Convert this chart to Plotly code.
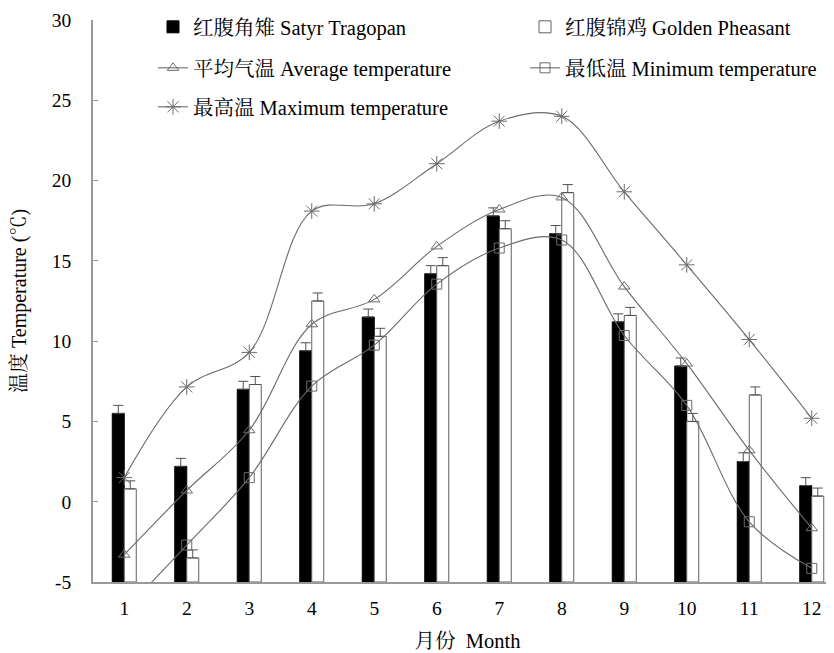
import plotly.graph_objects as go

# ---------------- data ----------------
months = [1, 2, 3, 4, 5, 6, 7, 8, 9, 10, 11, 12]
month_labels = ["1", "2", "3", "4", "5", "6", "7", "8", "9", "10", "11", "12"]

satyr = [5.5, 2.2, 7.0, 9.4, 11.5, 14.2, 17.8, 16.7, 11.2, 8.45, 2.5, 1.0]
satyr_err = [0.5, 0.5, 0.5, 0.5, 0.5, 0.5, 0.5, 0.5, 0.5, 0.5, 0.55, 0.5]

golden = [0.8, -3.5, 7.3, 12.5, 10.3, 14.7, 17.0, 19.25, 11.6, 5.0, 6.65, 0.35]
golden_err = [0.5, 0.5, 0.5, 0.5, 0.5, 0.5, 0.5, 0.5, 0.5, 0.5, 0.5, 0.5]

avg_temp = [-3.3, 0.7, 4.45, 11.05, 12.6, 15.9, 18.2, 18.95, 13.4, 8.6, 3.2, -1.65]
min_temp = [-6.8, -2.7, 1.5, 7.2, 9.75, 13.55, 15.8, 16.3, 10.35, 6.0, -1.25, -4.15]
max_temp = [1.5, 7.15, 9.3, 18.1, 18.55, 21.05, 23.7, 24.0, 19.3, 14.75, 10.1, 5.2]

y_ticks = [-5, 0, 5, 10, 15, 20, 25, 30]
y_tick_text = ["-5", "0", "5", "10", "15", "20", "25", "30"]

names = ["红腹角雉 Satyr Tragopan", "红腹锦鸡 Golden Pheasant",
         "平均气温 Average temperature", "最低温 Minimum temperature",
         "最高温 Maximum temperature"]

Y_MIN, Y_MAX = -5, 30

FONT = "Liberation Serif, Times New Roman, Noto Serif CJK SC, Noto Sans CJK SC, serif"
LINE_C = "#6a6a6a"

fig = go.Figure()

fig.add_trace(go.Bar(
    x=months, y=[v - Y_MIN for v in satyr], base=Y_MIN, name=names[0],
    marker=dict(color="black", line=dict(color="black", width=1)),
    error_y=dict(type="data", array=satyr_err, arrayminus=[0] * 12, symmetric=False,
                 color="#505050", thickness=1, width=5),
    legend="legend2",
))
fig.add_trace(go.Bar(
    x=months, y=[v - Y_MIN for v in golden], base=Y_MIN, name=names[1],
    marker=dict(color="white", line=dict(color="#606060", width=1)),
    error_y=dict(type="data", array=golden_err, arrayminus=[0] * 12, symmetric=False,
                 color="#505050", thickness=1, width=5),
    legend="legend3",
))

line_specs = [
    (avg_temp, names[2], "triangle-up-open", 10, "legend4"),
    (min_temp, names[3], "square-open", 10, "legend5"),
    (max_temp, names[4], "asterisk-open", 13, "legend6"),
]
for vals, nm, sym, sz, lg in line_specs:
    fig.add_trace(go.Scatter(
        x=months, y=vals, name=nm, mode="lines+markers",
        line=dict(color=LINE_C, width=1.1, shape="spline", smoothing=1.0),
        marker=dict(symbol=sym, size=sz, color=LINE_C, line=dict(color=LINE_C, width=1)),
        legend=lg, cliponaxis=True,
    ))

W, H = 834, 653
OFF = 8  # page body margin offset
ML, MR, MT, MB = 85, 0, 12, 79
pw = W - ML - MR
ph = H - MT - MB
cat_px = 62.5
x_max = 0.5 + pw / cat_px


def lx(px):
    return (px - OFF - ML) / pw


def ly(py):
    return 1 - (py - OFF - MT) / ph


leg_common = dict(orientation="h", bgcolor="rgba(0,0,0,0)", borderwidth=0,
                  font=dict(family=FONT, size=20.5, color="black"),
                  xanchor="left", yanchor="middle")

fig.update_layout(
    width=W, height=H,
    margin=dict(l=ML, r=MR, t=MT, b=MB, autoexpand=False),
    paper_bgcolor="white", plot_bgcolor="white",
    barmode="group", bargap=0.616, bargroupgap=0,
    font=dict(family=FONT, size=20, color="black"),
    showlegend=True,
    legend2=dict(x=lx(153), y=ly(27), **leg_common),
    legend3=dict(x=lx(525), y=ly(27), **leg_common),
    legend4=dict(x=lx(153), y=ly(68), **leg_common),
    legend5=dict(x=lx(525), y=ly(68), **leg_common),
    legend6=dict(x=lx(153), y=ly(107), **leg_common),
    xaxis=dict(
        range=[0.5, x_max], tickmode="array", tickvals=months, ticktext=month_labels,
        showline=True, linecolor="#999999", linewidth=1.5, ticks="",
        showgrid=False, zeroline=False, tickfont=dict(size=19.5),
        ticklabelstandoff=8, automargin=False,
        title=dict(text="月份  Month", font=dict(size=20.5), standoff=15),
    ),
    yaxis=dict(
        range=[Y_MIN, Y_MAX], tickmode="array", tickvals=y_ticks, ticktext=y_tick_text,
        showline=True, linecolor="#999999", linewidth=1.5,
        ticks="inside", ticklen=5, tickcolor="#999999",
        showgrid=False, zeroline=False, tickfont=dict(size=19.5),
        ticklabelstandoff=16, automargin=False,
        title=dict(text="温度 Temperature (℃)", font=dict(size=20), standoff=28),
    ),
)

fig.write_html("out.html")
